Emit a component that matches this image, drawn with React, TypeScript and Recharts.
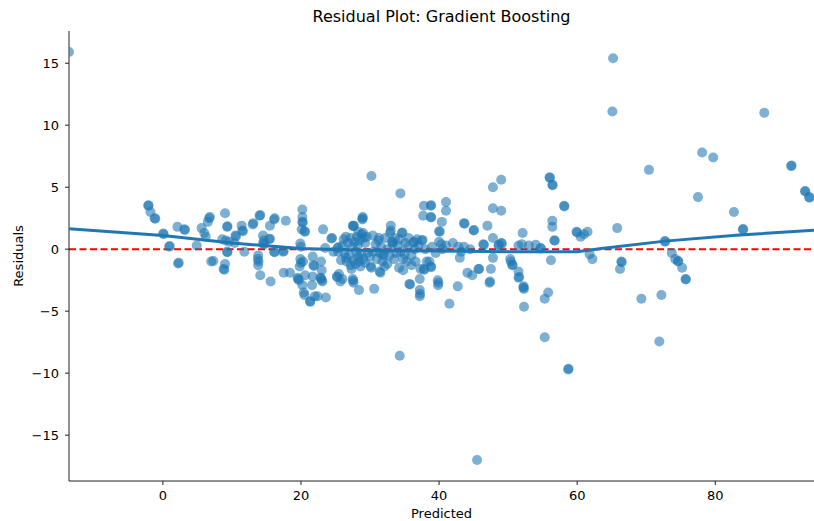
import React from "react";
import {
  ScatterChart,
  Scatter,
  XAxis,
  YAxis,
  ReferenceLine,
} from "recharts";

// [predicted, residual]
const lowRange: [number, number][] = [
  [-13.6, 15.9], [-2.1, 3.5], [-2.1, 3.55], [-1.8, 3.0], [-1.2, 2.5], [-1.1, 2.45],
  [0.05, 1.27], [0.1, 1.2], [0.9, 0.2], [1.0, 0.25], [2.2, -1.15], [2.3, -1.1],
  [2.1, 1.8], [3.1, 1.6], [3.2, 1.55], [4.9, 0.3], [5.6, 1.7], [6.0, 1.3], [6.2, 1.0],
  [6.7, 2.5], [6.8, 2.6], [6.5, 2.2], [7.0, -1.0], [7.3, -0.95], [8.8, -1.6], [8.9, -1.65],
  [9.0, -1.2], [9.0, 2.9], [9.3, 1.8], [9.35, 1.85], [8.6, 0.8], [9.1, 0.7], [9.6, 0.6],
  [9.3, -0.2], [9.35, -0.25], [10.5, 1.1], [10.6, 1.05], [10.4, 0.5], [11.4, 1.9],
  [11.5, 1.5], [11.6, 1.45], [11.8, -0.2], [13.1, 2.1], [13.0, 2.0], [14.0, 2.7],
  [14.1, 2.75], [14.5, 1.1], [14.6, 0.7], [14.7, 0.4], [14.5, 0.45], [13.8, -0.5],
  [13.75, -0.8], [13.8, -1.3], [13.85, -1.0], [14.1, -2.1], [15.6, -2.6], [15.4, 0.8],
  [15.5, 0.85], [15.5, 1.9], [16.1, 2.4], [16.2, 2.5], [16.1, -0.2], [16.2, -0.25],
  [17.4, -0.2], [17.5, -0.15], [17.8, 2.3], [17.5, -1.9], [18.4, -1.9], [19.5, -2.3],
  [19.6, -2.4], [19.7, -2.5],
];

const midRange: [number, number][] = [
  [20.2, 3.2], [20.2, 2.6], [20.2, 2.2], [20.25, 2.15], [20.6, 1.4], [20.5, 1.45],
  [20.1, 1.6], [19.9, 0.45], [20.0, 0.2], [19.9, -0.8], [20.0, -1.1], [19.8, -1.4],
  [20.3, -1.0], [20.6, -2.1], [20.2, -2.9], [20.4, -3.5], [20.5, -3.7], [21.3, -4.2],
  [21.35, -4.25], [22.4, -3.8], [22.0, -3.8], [21.6, -2.9], [21.7, -2.2], [21.7, -0.6],
  [21.8, -1.3], [21.9, -1.35], [22.9, -1.0], [23.0, -1.7], [23.2, 1.6], [24.4, 0.86],
  [24.5, 0.9], [23.5, 0.1], [24.7, -0.2], [22.8, -2.3], [22.9, -2.35], [23.0, -2.5],
  [23.1, -2.6], [23.6, -3.9], [25.3, 0.1], [25.35, -0.2], [25.4, 0.15], [26.5, -0.7],
  [26.6, -1.0], [25.5, -2.0], [25.7, -2.6], [26.0, -2.4], [25.2, -2.2], [25.25, -2.25],
  [27.5, -2.4], [27.6, -2.7], [27.55, -2.55], [28.4, -3.3], [27.2, -1.3], [27.3, -1.6],
  [27.6, 1.85], [27.65, 1.9], [27.5, 1.9], [28.9, 2.4], [28.95, 2.6], [28.9, 2.5],
  [26.0, 0.3], [26.3, -0.3], [26.8, 0.5], [27.0, -0.5], [27.2, 0.9], [27.4, 0.2],
  [27.6, -0.9], [27.8, 0.6], [28.0, -0.2], [28.1, 1.0], [28.2, 0.3], [28.3, -0.6],
  [28.4, -1.0], [28.5, 0.7], [28.7, -0.4], [28.8, 1.2], [29.0, -0.8], [29.1, 0.9],
  [29.3, 0.5], [29.5, 1.0], [29.7, -0.3], [30.0, -0.6], [26.5, 1.0], [27.9, -1.2],
  [28.3, 1.4], [29.0, 1.3], [25.8, -0.9], [26.2, 0.8], [28.6, -1.4], [29.3, -1.1],
  [30.2, 5.9], [34.4, 4.5], [30.1, -1.4], [30.2, -1.5], [30.6, -3.2], [31.4, -1.8],
  [31.5, -1.9], [31.3, 0.9], [31.6, 0.2], [31.8, -0.4], [32.0, -0.5], [33.0, 1.9],
  [33.0, 1.5], [33.2, 0.6], [33.3, 0.4], [33.25, 0.55], [31.8, -1.0], [32.5, -1.2],
  [33.5, -0.8], [34.4, -0.2], [34.8, -0.8], [34.2, -1.5], [34.8, -1.7], [35.1, 0.5],
  [36.4, 0.6], [36.3, 0.55], [35.7, -2.8], [35.8, -2.85], [37.2, -3.3], [37.2, -3.8],
  [37.25, -3.6], [37.2, -2.4], [37.3, -1.6], [37.8, -1.6], [37.85, -1.65], [38.8, -1.4],
  [38.85, -1.45], [38.2, -1.0], [38.6, -1.0], [37.8, 3.5], [38.8, 3.5], [38.85, 3.55],
  [38.8, 2.6], [38.85, 2.55], [37.7, 2.7], [34.6, 1.3], [34.7, 1.35], [32.9, 1.3],
  [36.0, -0.5], [36.0, -1.3], [36.5, 0.0], [35.5, 0.2], [34.0, 0.3], [32.5, 0.0],
  [30.8, 0.4], [30.5, -0.2], [31.0, -0.8], [33.8, -0.3], [35.0, -0.4], [37.0, 0.3],
  [37.5, 0.7], [37.6, 0.75], [39.0, 0.2], [39.5, -0.3], [38.0, 0.0], [31.2, 0.7],
  [32.2, 0.9], [33.6, 0.9], [34.3, 0.8], [35.6, 0.9], [36.8, 0.8], [31.4, -0.3],
  [32.8, -0.5], [35.3, -1.0], [36.6, -1.0], [32.1, -1.4], [30.4, 1.1],
];

const upperRange: [number, number][] = [
  [41.0, 3.8], [41.0, 3.1], [40.4, 2.2], [40.1, 1.4], [40.0, 1.45], [40.0, 0.6],
  [40.3, 0.4], [39.8, -2.5], [39.85, -2.9], [39.9, -2.7], [41.0, 0.3], [40.5, 0.0],
  [41.5, -4.4], [42.7, -3.0], [42.8, 0.2], [43.6, 0.2], [43.0, -0.7], [43.2, -0.2],
  [43.6, 2.1], [43.7, 2.05], [45.0, 1.5], [45.05, 1.55], [47.0, 1.9], [47.8, 0.9],
  [47.8, 5.0], [49.0, 5.6], [47.8, 3.3], [49.0, 3.1], [44.1, -1.9], [45.7, -1.6],
  [45.8, -1.6], [47.5, -1.6], [47.3, -2.7], [47.4, -2.6], [46.4, 0.4], [46.5, 0.35],
  [49.0, 0.5], [49.1, 0.45], [47.8, -0.7], [50.3, -0.8], [50.4, -1.0], [50.6, -1.3],
  [50.65, -1.25], [51.5, 0.3], [52.0, 0.4], [52.1, 1.3], [53.0, 0.3], [54.0, 0.35],
  [54.7, 0.1], [54.75, 0.05], [51.5, -1.8], [51.5, -2.3], [51.6, -2.25], [52.2, -3.1],
  [52.25, -3.0], [52.3, -3.2], [52.3, -4.65], [55.3, -4.0], [55.8, -3.5], [56.0, 5.8],
  [56.05, 5.75], [56.4, 5.2], [56.45, 5.15], [58.1, 3.5], [58.15, 3.45], [56.4, 2.3],
  [56.4, 1.8], [59.9, 1.4], [60.0, 1.35], [60.5, 1.0], [61.0, 1.2], [61.5, 1.4],
  [56.7, 0.7], [56.75, 0.7], [56.2, -0.9], [61.8, -0.4], [62.2, -0.8], [65.8, 1.7],
  [66.4, -1.0], [66.45, -1.05], [66.2, -1.6], [42.0, 0.5], [44.5, 0.0], [48.6, 0.3],
  [48.65, 0.35], [44.8, -2.1],
];

const highRange: [number, number][] = [
  [69.3, -4.0], [70.4, 6.4], [72.2, -3.7], [72.7, 0.65], [72.75, 0.6], [73.7, -0.3],
  [74.2, -0.8], [74.6, -1.0], [74.65, -0.95], [75.2, -1.5], [75.7, -2.4], [75.75, -2.45],
  [77.5, 4.2], [78.1, 7.8], [79.7, 7.4], [82.7, 3.0], [84.0, 1.6], [84.05, 1.6],
  [87.1, 11.0], [91.0, 6.7], [91.05, 6.75], [93.0, 4.7], [93.05, 4.65], [93.6, 4.2],
  [93.65, 4.15],
];

const outliers: [number, number][] = [
  [65.2, 15.4], [65.1, 11.1], [45.5, -17.0], [34.3, -8.6], [58.7, -9.7], [58.75, -9.65],
  [55.3, -7.1], [71.9, -7.45],
];

// lowess trend
const lowessX = [-13.6, 0, 10, 20, 30, 40, 50, 60, 63.5, 72.7, 83, 94.3];
const lowessY = [1.64, 1.1, 0.5, 0.05, -0.1, -0.15, -0.2, -0.2, 0.05, 0.65, 1.13, 1.53];

const xTicks = [0, 20, 40, 60, 80];
const yTicks = [-15, -10, -5, 0, 5, 10, 15];

const points = [...lowRange, ...midRange, ...upperRange, ...highRange, ...outliers].map(
  ([x, y]) => ({ x, y })
);
const lowess = lowessX.map((x, i) => ({ x, y: lowessY[i] }));

const font = "'DejaVu Sans', sans-serif";
const tickStyle = { fontSize: 13, fill: "#000", fontFamily: font };
const minus = (v: number) => String(v).replace("-", "\u2212");

function Dot(props: any) {
  const { cx, cy } = props;
  if (cx == null || cy == null) return null;
  return <circle cx={cx} cy={cy} r={5} fill="#1f77b4" fillOpacity={0.58} />;
}

export default function App() {
  return (
    <div style={{ position: "absolute", left: 0, top: 0, width: 814, height: 521, background: "#fff", overflow: "hidden", fontFamily: font }}>
      <div style={{ position: "absolute", left: 69, width: 745, top: 7, textAlign: "center", fontSize: 16, lineHeight: "20px" }}>
        Residual Plot: Gradient Boosting
      </div>
      <div
        style={{
          position: "absolute",
          left: 18,
          top: 256,
          fontSize: 13,
          transform: "translate(-50%, -50%) rotate(-90deg)",
          whiteSpace: "nowrap",
        }}
      >
        Residuals
      </div>
      <div style={{ position: "absolute", left: 69, width: 745, top: 506, textAlign: "center", fontSize: 13, lineHeight: "16px" }}>
        Predicted
      </div>
      <ScatterChart width={814} height={521} margin={{ top: 31, right: 0, bottom: 0, left: 0 }}>
        <XAxis
          type="number"
          dataKey="x"
          domain={[-13.6, 94.3]}
          ticks={xTicks}
          height={40}
          tick={tickStyle}
          tickFormatter={minus}
          tickSize={4}
          tickMargin={6}
          stroke="#222"
          allowDataOverflow
        />
        <XAxis
          xAxisId="top"
          orientation="top"
          type="number"
          domain={[-13.6, 94.3]}
          height={0}
          tick={false}
          tickLine={false}
          stroke="#222"
        />
        <YAxis
          type="number"
          dataKey="y"
          domain={[-18.7, 17.6]}
          ticks={yTicks}
          width={69}
          tick={tickStyle}
          tickFormatter={minus}
          tickSize={4}
          tickMargin={6}
          stroke="#222"
          allowDataOverflow
        />
        <Scatter data={points} shape={<Dot />} isAnimationActive={false} />
        <Scatter
          data={lowess}
          line={{ stroke: "#1f77b4", strokeWidth: 3 }}
          lineType="joint"
          shape={() => <g />}
          isAnimationActive={false}
        />
        <ReferenceLine y={0} stroke="#ff0000" strokeWidth={2} strokeDasharray="7 3.5" />
      </ScatterChart>
    </div>
  );
}
